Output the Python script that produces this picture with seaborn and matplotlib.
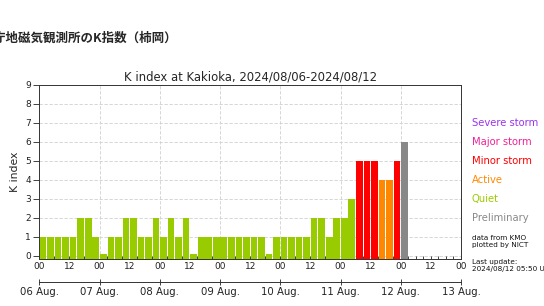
import numpy as np
import pandas as pd
import matplotlib
matplotlib.use("Agg")
import matplotlib.pyplot as plt
import matplotlib.transforms as mtransforms
import seaborn as sns

# ---- data ----
k_values = [1, 1, 1, 1, 1, 2, 2, 1,   # 06 Aug
            0, 1, 1, 2, 2, 1, 1, 2,   # 07 Aug
            1, 2, 1, 2, 0, 1, 1, 1,   # 08 Aug
            1, 1, 1, 1, 1, 1, 0, 1,   # 09 Aug
            1, 1, 1, 1, 2, 2, 1, 2,   # 10 Aug
            2, 3, 5, 5, 5, 4, 4, 5,   # 11 Aug
            6]                        # 12 Aug (preliminary)
preliminary = [False] * 48 + [True]
slot_hours = 3
day_labels = ["06 Aug.", "07 Aug.", "08 Aug.", "09 Aug.", "10 Aug.",
              "11 Aug.", "12 Aug.", "13 Aug."]
hour_labels = ["00", "12"]
legend_labels = ["Severe storm", "Major storm", "Minor storm", "Active", "Quiet", "Preliminary"]
legend_levels = [7, 6, 5, 4, 3, 2]
colors = {"Severe storm": "#9933ee", "Major storm": "#ee2299", "Minor storm": "#ff0000",
          "Active": "#ff8800", "Quiet": "#99cc00", "Preliminary": "#888888"}
title = "K index at Kakioka, 2024/08/06-2024/08/12"
page_title = "気象庁地磁気観測所のK指数（柿岡）"


def category(k, prelim):
    if prelim:
        return "Preliminary"
    if k >= 7:
        return "Severe storm"
    if k == 6:
        return "Major storm"
    if k == 5:
        return "Minor storm"
    if k == 4:
        return "Active"
    return "Quiet"


ymin, ymax = -0.16, 9
n_days = len(day_labels) - 1
total_hours = n_days * 24

df = pd.DataFrame({
    "k": k_values,
    "prelim": preliminary,
})
df["start"] = np.arange(len(df)) * slot_hours
df["center"] = df["start"] + slot_hours / 2
df["top"] = np.where(df["k"] == 0, 0.08, df["k"])
df["height"] = df["top"] - ymin
df["category"] = [category(k, p) for k, p in zip(df["k"], df["prelim"])]

# ---- figure ----
sns.set_style("white")
plt.rcParams["font.family"] = ["DejaVu Sans"]

fig = plt.figure(figsize=(5.44, 3.06), dpi=100)
ax = fig.add_axes([39.3 / 544, 47 / 306, (461 - 39.3) / 544, (259 - 85) / 306])

sns.barplot(data=df, x="center", y="height", hue="category", palette=colors,
            native_scale=True, dodge=False, width=0.88, legend=False,
            errorbar=None, saturation=1, linewidth=0, bottom=ymin, ax=ax, zorder=2)

ax.set_xlim(0, total_hours)
ax.set_ylim(ymin, ymax)

# grid
for d in np.arange(24, total_hours, 24):
    ax.axvline(d, color="#d0d0d0", lw=0.6, ls=(0, (4, 2)), zorder=0)
for y in range(0, 9):
    ax.axhline(y, color="#d0d0d0", lw=0.6, ls=(0, (4, 2)), zorder=0)

# x ticks
major = np.arange(0, total_hours + 1, 12)
ax.set_xticks(major)
ax.set_xticklabels([hour_labels[i % 2] for i in range(len(major))])
ax.set_xticks(np.arange(0, total_hours + 1, slot_hours), minor=True)
ax.tick_params(axis="x", which="both", direction="in", top=True, bottom=True,
               length=2.2, width=0.6, labelsize=6.5, pad=2.5, colors="#222222")
ax.set_xlabel("")

# y ticks
ax.set_yticks(range(10))
ax.tick_params(axis="y", which="both", direction="out", left=True, right=False,
               length=4, width=0.6, labelsize=6.5, pad=2, colors="#222222")
ax.set_ylabel("K index", fontsize=7.8, labelpad=4)

for s in ax.spines.values():
    s.set_color("#333333")
    s.set_linewidth(0.7)

ax.set_title(title, fontsize=8.4, pad=3)

# date axis
ax2 = ax.twiny()
ax2.set_xlim(0, total_hours)
ax2.xaxis.set_ticks_position("bottom")
ax2.xaxis.set_label_position("bottom")
ax2.spines["bottom"].set_position(("outward", 16.3))
for side in ["top", "left", "right"]:
    ax2.spines[side].set_visible(False)
ax2.spines["bottom"].set_color("#333333")
ax2.spines["bottom"].set_linewidth(0.7)
ax2.set_xticks(np.arange(0, total_hours + 1, 24))
ax2.set_xticklabels(day_labels)
ax2.tick_params(axis="x", direction="inout", length=4, width=0.6, labelsize=7.3,
                pad=2, colors="#222222")

# right side labels
trans = mtransforms.blended_transform_factory(fig.transFigure, ax.transData)
xt = 472 / 544
for lab, lev in zip(legend_labels, legend_levels):
    fig.text(xt, lev, lab, color=colors[lab], fontsize=7.2, va="center", ha="left",
             transform=trans)
fig.text(xt, 0.78, "data from KMO\nplotted by NICT", fontsize=5.2, va="center",
         ha="left", transform=trans, linespacing=1.15, color="#111111")
fig.text(xt, -0.49, "Last update:\n2024/08/12 05:50 UT", fontsize=5.2, va="center",
         ha="left", transform=trans, linespacing=1.15, color="#111111")

# page title
fig.text(-31 / 544, 1 - 38 / 306, page_title, fontsize=9, fontweight="bold",
         family=["Noto Sans CJK JP", "DejaVu Sans"], va="center", ha="left")

fig.savefig("out.png", dpi=100)
